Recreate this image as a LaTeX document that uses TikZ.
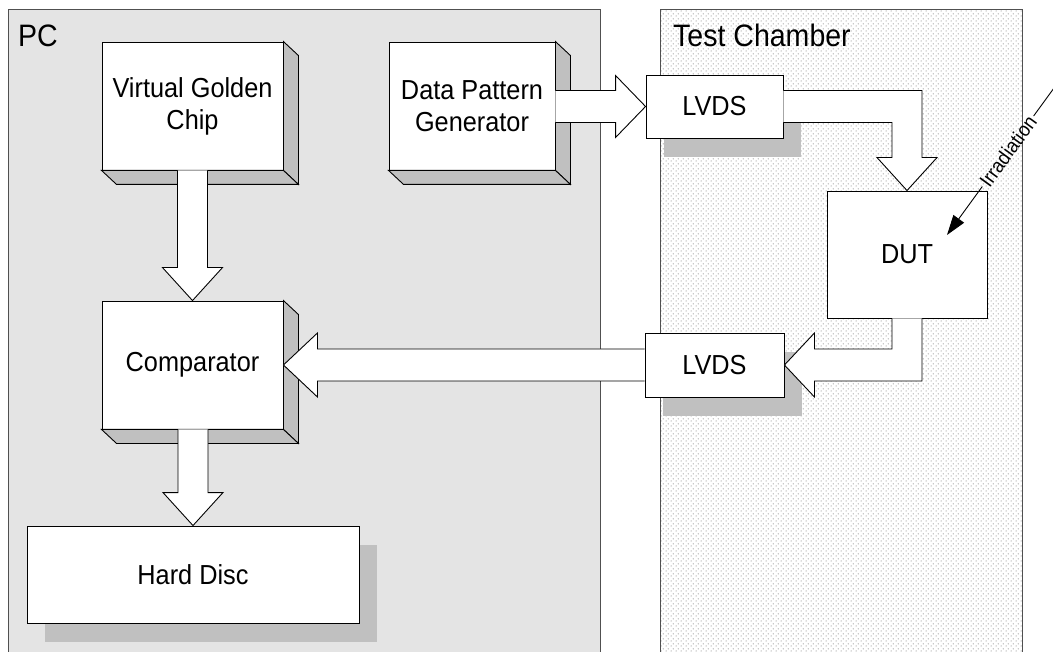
\documentclass[tikz,border=0pt]{standalone}
\usepackage{fontspec}
\setmainfont{Liberation Sans}[FakeStretch=0.92]
\usetikzlibrary{calc,patterns.meta,shadows,arrows.meta}

\definecolor{pcgray}{HTML}{E4E4E4}
\definecolor{facegray}{HTML}{C0C0C0}
\definecolor{edgegray}{HTML}{505050}
\definecolor{dotgray}{HTML}{6A6A6A}

% fine staggered dot raster for the chamber area
\tikzdeclarepattern{
  name=chamberdots,
  type=uncolored,
  bounding box={(0pt,0pt) and (5pt,5pt)},
  tile size={(5pt,5pt)},
  code={
    \fill (1.25pt,1.25pt) circle (0.6pt);
    \fill (3.75pt,3.75pt) circle (0.6pt);
  }
}

% right and bottom faces of a raised block
\newcommand\extrude[1]{%
  \filldraw[side] (#1.north east) -- ++(15,14) -- ($(#1.south east)+(15,14)$) -- (#1.south east) -- cycle;
  \filldraw[side] (#1.south west) -- ++(15,14) -- ($(#1.south east)+(15,14)$) -- (#1.south east) -- cycle;}

% wide hollow arrows between blocks
\newcommand\bigarrowdown[2]{%
  \filldraw[fat] ($(#2.north |- #1.south)+(-15,0)$) -- ($(#2.north)+(-15,-33)$) -- ++(-15,0)
    -- (#2.north) -- ($(#2.north)+(30,-33)$) -- ++(-15,0) -- ($(#2.north |- #1.south)+(15,0)$);}
\newcommand\bigarrowright[2]{%
  \filldraw[fat] ($(#1.east |- #2.west)+(0,-16)$) -- ($(#2.west)+(-30,-16)$) -- ++(0,-15)
    -- (#2.west) -- ($(#2.west)+(-30,31)$) -- ++(0,-15) -- ($(#1.east |- #2.west)+(0,16)$);}
\newcommand\bigarrowleft[2]{%
  \filldraw[fat] ($(#1.west |- #2.east)+(0,-16)$) -- ($(#2.east)+(34,-16)$) -- ++(0,-16)
    -- (#2.east) -- ($(#2.east)+(34,32)$) -- ++(0,-16) -- ($(#1.west |- #2.east)+(0,16)$);}

\begin{document}
\begin{tikzpicture}[x=1pt,y=-1pt,
  panel/.style={draw=edgegray, line width=1pt},
  paneltitle/.style={anchor=base west, inner sep=0pt, font=\fontsize{31}{36}\selectfont},
  block/.style={draw=black, fill=white, line width=0.9pt, inner sep=0pt, align=center,
                font=\fontsize{27.5}{32}\selectfont},
  flatshadow/.style={drop shadow={shadow xshift=18pt, shadow yshift=-19pt, fill=facegray, opacity=1}},
  side/.style={fill=facegray, draw=black, line width=0.9pt, line join=miter},
  fat/.style={fill=white, draw=black, line width=0.9pt, line join=miter},
  ray/.style={line width=0.9pt}]
\useasboundingbox (0,0) rectangle (1053,652);
\clip (0,0) rectangle (1053,652);

% enclosing areas
\filldraw[panel, fill=pcgray] (8,10) rectangle (600,670);
\fill[white] (660,10) rectangle (1022,670);
\fill[pattern=chamberdots, pattern color=dotgray] (660,10) rectangle (1022,670);
\draw[panel] (660,10) rectangle (1022,670);
\node[paneltitle] (pctitle) at (18,47) {PC};
\node[paneltitle] (chambertitle) at (673,47) {Test Chamber};

% blocks
\node[block, minimum width=181pt, minimum height=128pt] (vgc) at (192.5,106) {Virtual Golden\\Chip};
\node[block, minimum width=166pt, minimum height=128pt] (dpg) at (472,106) {Data Pattern\\Generator};
\node[block, minimum width=181pt, minimum height=128pt] (comp) at (192.5,365) {Comparator};
\node[block, flatshadow, minimum width=332pt, minimum height=97pt] (hd) at (193,574.5) {Hard Disc};
\node[block, flatshadow, minimum width=137pt, minimum height=63pt] (lvdsin) at (714.5,106.5) {LVDS};
\node[block, flatshadow, minimum width=139pt, minimum height=64pt] (lvdsout) at (714.5,365) {LVDS};
\node[block, minimum width=160pt, minimum height=127pt] (dut) at (907,254.5) {DUT};

\extrude{vgc}
\extrude{dpg}
\extrude{comp}

% data flow
\bigarrowdown{vgc}{comp}
\bigarrowdown{comp}{hd}
\bigarrowright{dpg}{lvdsin}
\bigarrowleft{lvdsout}{comp}

\filldraw[fat] ($(lvdsin.east)+(0,-16)$) -- ($(dut.north |- lvdsin.east)+(15,-16)$)
  -- ($(dut.north)+(15,-33)$) -- ($(dut.north)+(30,-33)$) -- (dut.north)
  -- ($(dut.north)+(-30,-33)$) -- ($(dut.north)+(-15,-33)$)
  -- ($(dut.north |- lvdsin.east)+(-15,16)$) -- ($(lvdsin.east)+(0,16)$);

\filldraw[fat] ($(dut.south)+(-15,0)$) -- ($(dut.south |- lvdsout.east)+(-15,-16)$)
  -- ($(lvdsout.east)+(30,-16)$) -- ($(lvdsout.east)+(30,-32)$) -- (lvdsout.east)
  -- ($(lvdsout.east)+(30,32)$) -- ($(lvdsout.east)+(30,16)$)
  -- ($(dut.south |- lvdsout.east)+(15,16)$) -- ($(dut.south)+(15,0)$);

% irradiation beam
\coordinate (irrsrc) at (1062,77);
\coordinate (irrtip) at ($(dut.center)+(40,-19.5)$);
\node[font=\fontsize{20}{22}\selectfont, rotate=54, inner sep=2.5pt] (irrlbl)
  at ($(irrsrc)!0.47!(irrtip)$) {Irradiation};
\draw[ray] (irrsrc) -- (irrlbl);
\draw[ray, -{Triangle[length=20pt,width=13pt]}] (irrlbl) -- (irrtip);
\end{tikzpicture}
\end{document}
